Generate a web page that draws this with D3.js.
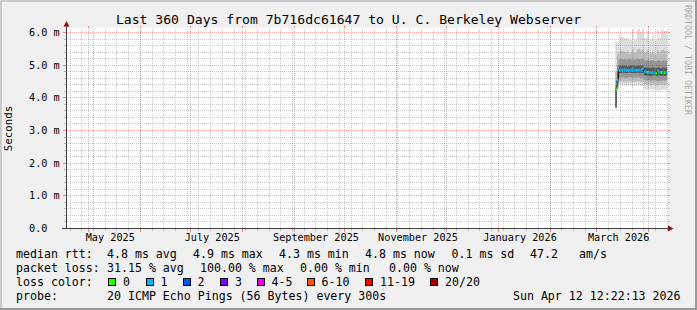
<!DOCTYPE html>
<html>
<head>
<meta charset="utf-8">
<script src="https://cdnjs.cloudflare.com/ajax/libs/d3/7.8.5/d3.min.js"></script>
<style>
  body { margin: 0; background: #fff; }
  svg text { font-family: "DejaVu Sans Mono", monospace; fill: #000; }
</style>
</head>
<body>
<svg id="chart" width="697" height="310"></svg>
<script>
// graph end time and span
var graphEnd = Date.UTC(2026, 3, 12, 12, 22, 13);
var spanDays = 360;

// one value per day, from Mar 12 2026 to Apr 11 2026 (ms)
var firstDay = Date.UTC(2026, 2, 12);
var medianRtt = [4.27, 4.54, 4.84, 4.85, 4.85, 4.86, 4.85, 4.85, 4.85, 4.85, 4.86, 4.85, 4.85, 4.85, 4.85, 4.86,
                 4.89, 4.80, 4.79, 4.78, 4.77, 4.77, 4.77, 4.76, 4.75, 4.82, 4.78, 4.77, 4.79, 4.77, 4.78];
// lost pings out of 20
var lossCount = [0, 1, 1, 1, 1, 1, 1, 1, 1, 1, 1, 1, 1, 1, 1, 1,
                 1, 1, 1, 0, 1, 1, 1, 1, 0, 1, 1, 0, 1, 0, 1];
// smoke: ping times from fastest (ping0) to slowest (ping7)
var ping0 = [3.65, 4.20, 4.40, 4.38, 4.37, 4.39, 4.36, 4.38, 4.40, 4.37, 4.35, 4.38, 4.36, 4.39, 4.37, 4.35,
             4.36, 4.28, 4.25, 4.24, 4.27, 4.22, 4.25, 4.26, 4.23, 4.22, 4.25, 4.24, 4.26, 4.23, 4.25];
var ping1 = [3.68, 4.28, 4.50, 4.49, 4.50, 4.51, 4.48, 4.50, 4.51, 4.49, 4.48, 4.50, 4.49, 4.51, 4.50, 4.48,
             4.49, 4.42, 4.40, 4.39, 4.41, 4.37, 4.40, 4.41, 4.38, 4.37, 4.40, 4.39, 4.41, 4.38, 4.40];
var ping2 = [3.70, 4.36, 4.62, 4.62, 4.63, 4.62, 4.61, 4.62, 4.63, 4.62, 4.61, 4.62, 4.62, 4.63, 4.62, 4.61,
             4.62, 4.55, 4.53, 4.53, 4.54, 4.51, 4.53, 4.54, 4.52, 4.51, 4.53, 4.52, 4.54, 4.52, 4.53];
var ping3 = [3.72, 4.46, 4.76, 4.76, 4.77, 4.76, 4.75, 4.76, 4.77, 4.76, 4.75, 4.76, 4.76, 4.77, 4.76, 4.75,
             4.76, 4.70, 4.68, 4.68, 4.67, 4.66, 4.68, 4.68, 4.66, 4.66, 4.68, 4.67, 4.68, 4.67, 4.68];
var ping4 = [4.30, 4.80, 4.98, 4.99, 4.98, 4.99, 4.98, 4.97, 4.98, 4.99, 4.98, 4.98, 4.97, 4.99, 4.98, 4.98,
             4.99, 4.93, 4.92, 4.93, 4.91, 4.92, 4.93, 4.92, 4.91, 4.94, 4.92, 4.91, 4.93, 4.92, 4.92];
var ping5 = [4.40, 5.00, 5.18, 5.20, 5.18, 5.19, 5.17, 5.18, 5.19, 5.18, 5.20, 5.17, 5.18, 5.20, 5.19, 5.18,
             5.20, 5.15, 5.14, 5.16, 5.13, 5.14, 5.15, 5.13, 5.12, 5.16, 5.14, 5.13, 5.15, 5.14, 5.14];
var ping6 = [4.80, 5.35, 5.42, 5.45, 5.43, 5.40, 5.38, 5.42, 5.36, 5.40, 5.50, 5.38, 5.37, 5.48, 5.50, 5.45,
             5.48, 5.40, 5.38, 5.46, 5.36, 5.37, 5.42, 5.36, 5.35, 5.47, 5.38, 5.46, 5.47, 5.44, 5.43];
var ping7 = [5.72, 5.72, 5.87, 5.86, 5.87, 5.83, 5.82, 5.83, 5.77, 5.78, 6.10, 5.77, 5.76, 6.10, 6.11, 6.00,
             6.10, 5.83, 5.82, 6.07, 5.77, 5.78, 5.92, 5.77, 5.76, 6.10, 5.83, 6.10, 6.10, 6.05, 6.05];

var yTicks = [0, 1, 2, 3, 4, 5, 6];
var lossBins = ["0", "1", "2", "3", "4-5", "6-10", "11-19", "20/20"];
var lossColors = ["#26ff00", "#00b8ff", "#0059ff", "#7e00ff", "#ee00ee", "#ff5500", "#ff0000", "#a10000"];

var title = "Last 360 Days from 7b716dc61647 to U. C. Berkeley Webserver";
var rttLegend = [["median rtt:", 16], ["4.8 ms avg", 107], ["4.9 ms max", 193], ["4.3 ms min", 279],
                 ["4.8 ms now", 365], ["0.1 ms sd", 451.5], ["47.2", 530], ["am/s", 579]];
var lossLegend = [["packet loss:", 16], ["31.15 % avg", 107], ["100.00 % max", 200],
                  ["0.00 % min", 300], ["0.00 % now", 389]];
var probeText = "20 ICMP Echo Pings (56 Bytes) every 300s";
var stampText = "Sun Apr 12 12:22:13 2026";

function lossBin(n) {
  if (n <= 3) return n;
  if (n <= 5) return 4;
  if (n <= 10) return 5;
  if (n <= 19) return 6;
  return 7;
}

var svg = d3.select("#chart");
var plotL = 66, plotR = 668, plotT = 28.5, plotB = 228.5;

var graphStart = d3.utcDay.offset(new Date(graphEnd), -spanDays);
var x = d3.scaleTime().domain([graphStart, new Date(graphEnd)]).range([plotL, plotR]);
var y = d3.scaleLinear().domain([0, 6 * 200 / 196]).range([plotB, plotT]);
function snap(v) { return Math.floor(v) + 0.5; }

// background and 3d frame
svg.append("rect").attr("width", 697).attr("height", 310).attr("fill", "#f0f0f0");
svg.append("path").attr("d", "M0,0H697V2H2V310H0Z").attr("fill", "#cbcbcb");
svg.append("path").attr("d", "M697,0V310H0V308H695V0Z").attr("fill", "#999999");
svg.append("rect").attr("x", plotL).attr("y", 28).attr("width", plotR - plotL).attr("height", 201).attr("fill", "#fff");

svg.append("clipPath").attr("id", "plot").append("rect")
  .attr("x", plotL).attr("y", 28).attr("width", plotR - plotL).attr("height", 201);

// smoke
var days = medianRtt.map(function(d, i) { return d3.utcDay.offset(new Date(firstDay), i); });
var pts = days.concat([d3.utcDay.offset(days[days.length - 1], 1)]);
function ext(a) { return a.concat([a[a.length - 1]]); }
var bands = [[ping0, ping7, "#dddddd"], [ping1, ping6, "#bdbdbd"], [ping2, ping5, "#969696"], [ping3, ping4, "#5a5a5a"]];
var smoke = svg.append("g").attr("clip-path", "url(#plot)");
bands.forEach(function(b) {
  var lo = ext(b[0]), hi = ext(b[1]);
  var area = d3.area().curve(d3.curveStepAfter)
    .x(function(d) { return x(d); })
    .y0(function(d, i) { return y(lo[i]); })
    .y1(function(d, i) { return y(hi[i]); });
  smoke.append("path").datum(pts).attr("d", area).attr("fill", b[2]);
});

// grid
var grid = svg.append("g").attr("shape-rendering", "crispEdges").attr("stroke-dasharray", "1,1");
var minorC = "rgba(150,150,150,0.5)", majorC = "rgba(255,0,0,0.35)";
var weeks = d3.utcSunday.range(graphStart, new Date(graphEnd));
var months = d3.utcMonth.range(graphStart, new Date(graphEnd));
var minorY = y.ticks(30).filter(function(v) { return v > 0 && Math.abs(v - Math.round(v)) > 1e-6; });
var majorY = yTicks.filter(function(v) { return v > 0; });

grid.selectAll(".wk").data(weeks).enter().append("line")
  .attr("x1", function(d) { return snap(x(d)); }).attr("x2", function(d) { return snap(x(d)); })
  .attr("y1", plotT).attr("y2", plotB).attr("stroke", minorC);
grid.selectAll(".my").data(minorY).enter().append("line")
  .attr("y1", function(d) { return snap(y(d)); }).attr("y2", function(d) { return snap(y(d)); })
  .attr("x1", plotL).attr("x2", plotR).attr("stroke", minorC);
grid.selectAll(".mo").data(months).enter().append("line")
  .attr("x1", function(d) { return snap(x(d)); }).attr("x2", function(d) { return snap(x(d)); })
  .attr("y1", plotT).attr("y2", plotB).attr("stroke", majorC);
grid.selectAll(".My").data(majorY).enter().append("line")
  .attr("y1", function(d) { return snap(y(d)); }).attr("y2", function(d) { return snap(y(d)); })
  .attr("x1", plotL).attr("x2", plotR).attr("stroke", majorC);

// small ticks outside the canvas
var ticks = svg.append("g").attr("shape-rendering", "crispEdges");
minorY.forEach(function(v) {
  ticks.append("line").attr("x1", plotL - 2).attr("x2", plotL).attr("y1", snap(y(v))).attr("y2", snap(y(v))).attr("stroke", "#bababa");
  ticks.append("line").attr("x1", plotR).attr("x2", plotR + 2).attr("y1", snap(y(v))).attr("y2", snap(y(v))).attr("stroke", "#bababa");
});
majorY.forEach(function(v) {
  ticks.append("line").attr("x1", plotL - 3).attr("x2", plotL).attr("y1", snap(y(v))).attr("y2", snap(y(v))).attr("stroke", "#f08080");
  ticks.append("line").attr("x1", plotR).attr("x2", plotR + 2).attr("y1", snap(y(v))).attr("y2", snap(y(v))).attr("stroke", "#f08080");
});
weeks.forEach(function(d) {
  ticks.append("line").attr("x1", snap(x(d))).attr("x2", snap(x(d))).attr("y1", 229).attr("y2", 231).attr("stroke", "#bababa");
});
months.forEach(function(d) {
  ticks.append("line").attr("x1", snap(x(d))).attr("x2", snap(x(d))).attr("y1", 229).attr("y2", 232).attr("stroke", "#f08080");
  ticks.append("line").attr("x1", snap(x(d))).attr("x2", snap(x(d))).attr("y1", 26).attr("y2", 28).attr("stroke", "#f08080");
});

// median line: dark joins, then loss coloured day segments
var medExt = ext(medianRtt);
var medLine = d3.line().curve(d3.curveStepAfter)
  .x(function(d) { return x(d); })
  .y(function(d, i) { return y(medExt[i]); });
svg.append("path").datum(pts).attr("d", medLine).attr("fill", "none").attr("stroke", "#202020").attr("stroke-width", 1);
svg.selectAll(".med").data(days).enter().append("line")
  .attr("x1", function(d) { return x(d); })
  .attr("x2", function(d) { return x(d3.utcDay.offset(d, 1)); })
  .attr("y1", function(d, i) { return y(medianRtt[i]); })
  .attr("y2", function(d, i) { return y(medianRtt[i]); })
  .attr("stroke", function(d, i) { return lossColors[lossBin(lossCount[i])]; })
  .attr("stroke-width", 2.5);

// axes with arrows
var axis = svg.append("g").attr("shape-rendering", "crispEdges").attr("stroke", "#404040");
axis.append("line").attr("x1", plotL + 0.5).attr("x2", plotL + 0.5).attr("y1", 229).attr("y2", 25);
axis.append("line").attr("x1", 62).attr("x2", 669).attr("y1", plotB).attr("y2", plotB);
svg.append("path").attr("d", "M63.5,26.5L69.5,26.5L66.5,21Z").attr("fill", "#901010");
svg.append("path").attr("d", "M668,225.5L668,231.5L673.5,228.5Z").attr("fill", "#901010");

// y labels
svg.selectAll(".yl").data(yTicks).enter().append("text")
  .attr("x", 29).attr("y", function(d) { return snap(y(d)) + 3.5; })
  .attr("font-size", "10.2px")
  .text(function(d) { return d === 0 ? "0.0" : d3.format(".1f")(d) + " m"; });

// x labels every two months
var labelMonths = months.filter(function(d) { return d.getUTCMonth() % 2 === 0; });
svg.selectAll(".xl").data(labelMonths).enter().append("text")
  .attr("x", function(d) { return x(d3.utcDay.offset(d, 13)); }).attr("y", 241)
  .attr("text-anchor", "middle").attr("font-size", "10.2px")
  .text(function(d) { return d3.utcFormat("%B %Y")(d); });

// titles
svg.append("text").attr("x", 348.5).attr("y", 24).attr("text-anchor", "middle")
  .attr("font-size", "13.1px").text(title);
svg.append("text").attr("transform", "translate(12,128.5) rotate(-90)").attr("text-anchor", "middle")
  .attr("font-size", "10.8px").text("Seconds");
svg.append("text").attr("transform", "translate(684.5,5) rotate(90)")
  .attr("font-size", "8.3px").style("fill", "#aaaaaa").text("RRDTOOL / TOBI OETIKER");

// legend
var legend = svg.append("g").attr("font-size", "11.6px");
rttLegend.forEach(function(t) { legend.append("text").attr("x", t[1]).attr("y", 258).text(t[0]); });
lossLegend.forEach(function(t) { legend.append("text").attr("x", t[1]).attr("y", 272).text(t[0]); });
legend.append("text").attr("x", 16).attr("y", 286).text("loss color:");
var boxX = [108, 145.5, 182.5, 220, 256.5, 306.5, 365, 430];
lossBins.forEach(function(b, i) {
  legend.append("rect").attr("x", boxX[i] + 0.5).attr("y", 278.5).attr("width", 7).attr("height", 7)
    .attr("fill", lossColors[i]).attr("stroke", "#000").attr("shape-rendering", "crispEdges");
  legend.append("text").attr("x", boxX[i] + 15).attr("y", 286).text(b);
});
legend.append("text").attr("x", 16).attr("y", 300).text("probe:");
legend.append("text").attr("x", 107).attr("y", 300).text(probeText);
legend.append("text").attr("x", 680.5).attr("y", 300).attr("text-anchor", "end").text(stampText);
</script>
</body>
</html>
